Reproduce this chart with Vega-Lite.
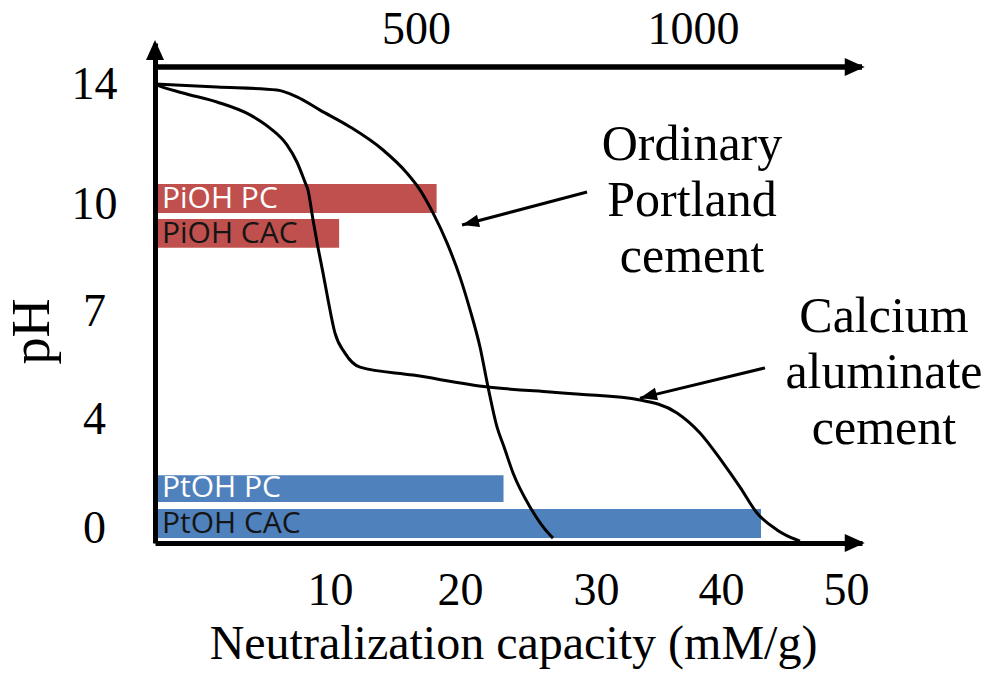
{
  "$schema": "https://vega.github.io/schema/vega-lite/v6.json",
  "width": 707,
  "height": 500,
  "autosize": {"type": "none"},
  "padding": {"left": 155, "top": 43, "right": 130, "bottom": 130},
  "background": "white",
  "config": {"view": {"stroke": null}, "axis": {"grid": false}},
  "datasets": {
    "bars": [
      {"label": "PiOH PC", "ion": "PiOH", "cement": "PC", "start": 0.17, "end": 18.2, "low": 9.75, "high": 10.67, "mid": 10.18},
      {"label": "PiOH CAC", "ion": "PiOH", "cement": "CAC", "start": 0.17, "end": 10.7, "low": 8.77, "high": 9.58, "mid": 9.17},
      {"label": "PtOH PC", "ion": "PtOH", "cement": "PC", "start": 0.17, "end": 23.2, "low": 0.95, "high": 1.94, "mid": 1.45},
      {"label": "PtOH CAC", "ion": "PtOH", "cement": "CAC", "start": 0.17, "end": 43.2, "low": -0.37, "high": 0.7, "mid": 0.165}
    ],
    "curves": [
      {"cement": "Ordinary Portland cement", "nc": 0, "ph": 14},
      {"cement": "Ordinary Portland cement", "nc": 3.54, "ph": 13.9},
      {"cement": "Ordinary Portland cement", "nc": 6.97, "ph": 13.8},
      {"cement": "Ordinary Portland cement", "nc": 8.11, "ph": 13.57},
      {"cement": "Ordinary Portland cement", "nc": 9.43, "ph": 13.13},
      {"cement": "Ordinary Portland cement", "nc": 11.54, "ph": 12.57},
      {"cement": "Ordinary Portland cement", "nc": 14.08, "ph": 11.8},
      {"cement": "Ordinary Portland cement", "nc": 15.92, "ph": 11.03},
      {"cement": "Ordinary Portland cement", "nc": 16.92, "ph": 10.47},
      {"cement": "Ordinary Portland cement", "nc": 17.92, "ph": 9.75},
      {"cement": "Ordinary Portland cement", "nc": 19.0, "ph": 8.91},
      {"cement": "Ordinary Portland cement", "nc": 20.0, "ph": 7.95},
      {"cement": "Ordinary Portland cement", "nc": 20.74, "ph": 7.03},
      {"cement": "Ordinary Portland cement", "nc": 21.47, "ph": 6.0},
      {"cement": "Ordinary Portland cement", "nc": 22.06, "ph": 4.89},
      {"cement": "Ordinary Portland cement", "nc": 22.72, "ph": 3.71},
      {"cement": "Ordinary Portland cement", "nc": 23.24, "ph": 2.97},
      {"cement": "Ordinary Portland cement", "nc": 23.9, "ph": 2.02},
      {"cement": "Ordinary Portland cement", "nc": 25.15, "ph": 0.77},
      {"cement": "Ordinary Portland cement", "nc": 26.62, "ph": -0.26},
      {"cement": "Ordinary Portland cement", "nc": 26.84, "ph": -0.37},
      {"cement": "Calcium aluminate cement", "nc": 0, "ph": 14},
      {"cement": "Calcium aluminate cement", "nc": 0.11, "ph": 13.97},
      {"cement": "Calcium aluminate cement", "nc": 1.6, "ph": 13.7},
      {"cement": "Calcium aluminate cement", "nc": 3.54, "ph": 13.4},
      {"cement": "Calcium aluminate cement", "nc": 5.43, "ph": 12.97},
      {"cement": "Calcium aluminate cement", "nc": 6.57, "ph": 12.53},
      {"cement": "Calcium aluminate cement", "nc": 7.54, "ph": 11.97},
      {"cement": "Calcium aluminate cement", "nc": 8.11, "ph": 11.4},
      {"cement": "Calcium aluminate cement", "nc": 8.57, "ph": 10.73},
      {"cement": "Calcium aluminate cement", "nc": 8.74, "ph": 10.47},
      {"cement": "Calcium aluminate cement", "nc": 9.03, "ph": 9.55},
      {"cement": "Calcium aluminate cement", "nc": 9.31, "ph": 8.79},
      {"cement": "Calcium aluminate cement", "nc": 9.6, "ph": 8.07},
      {"cement": "Calcium aluminate cement", "nc": 9.89, "ph": 7.31},
      {"cement": "Calcium aluminate cement", "nc": 10.38, "ph": 6.39},
      {"cement": "Calcium aluminate cement", "nc": 11.15, "ph": 5.83},
      {"cement": "Calcium aluminate cement", "nc": 12.31, "ph": 5.44},
      {"cement": "Calcium aluminate cement", "nc": 16.38, "ph": 5.22},
      {"cement": "Calcium aluminate cement", "nc": 22.06, "ph": 4.89},
      {"cement": "Calcium aluminate cement", "nc": 26.62, "ph": 4.75},
      {"cement": "Calcium aluminate cement", "nc": 28.82, "ph": 4.69},
      {"cement": "Calcium aluminate cement", "nc": 33.52, "ph": 4.53},
      {"cement": "Calcium aluminate cement", "nc": 36.48, "ph": 4.17},
      {"cement": "Calcium aluminate cement", "nc": 38.32, "ph": 3.49},
      {"cement": "Calcium aluminate cement", "nc": 40.16, "ph": 2.39},
      {"cement": "Calcium aluminate cement", "nc": 41.52, "ph": 1.5},
      {"cement": "Calcium aluminate cement", "nc": 42.88, "ph": 0.55},
      {"cement": "Calcium aluminate cement", "nc": 44.48, "ph": -0.07},
      {"cement": "Calcium aluminate cement", "nc": 46.08, "ph": -0.44},
      {"cement": "Calcium aluminate cement", "nc": 46.32, "ph": -0.48}
    ],
    "frame": [{"from": 0, "to": 51.28, "level": 14.57}],
    "heads": [
      {"part": "y axis", "nc": 0, "ph": 15.47, "dir": "up"},
      {"part": "x axis", "nc": 51.5, "ph": -0.55, "dir": "right"},
      {"part": "top axis", "nc": 51.5, "ph": 14.57, "dir": "right"}
    ],
    "pointers": [
      {"target": "Ordinary Portland cement", "from_nc": 29.34, "from_ph": 10.4, "to_nc": 20.15, "to_ph": 9.41},
      {"target": "Calcium aluminate cement", "from_nc": 43.52, "from_ph": 5.42, "to_nc": 33.52, "to_ph": 4.58}
    ],
    "notes": [
      {"note": "Ordinary\nPortland\ncement", "nc": 37.68, "ph": 11.47},
      {"note": "Calcium\naluminate\ncement", "nc": 53.04, "ph": 6.42}
    ],
    "topticks": [{"mmol": 500}, {"mmol": 1000}]
  },
  "layer": [
    {
      "resolve": {"scale": {"color": "independent"}},
      "layer": [
        {
          "data": {"name": "bars"},
          "mark": {"type": "rect"},
          "encoding": {
            "x": {
              "field": "start", "type": "quantitative",
              "scale": {"domain": [0, 10, 20, 30, 40, 50, 51.28], "range": [0, 175, 305, 441, 566, 691, 707], "nice": false, "zero": false},
              "axis": {
                "values": [10, 20, 30, 40, 50], "ticks": false, "tickSize": 0, "grid": false,
                "domain": true, "domainColor": "black", "domainWidth": 5,
                "labelFont": "Liberation Serif", "labelFontSize": 46, "labelColor": "black",
                "labelPadding": 25, "labelBaseline": "top", "labelFlush": false, "labelOverlap": false,
                "title": "Neutralization capacity (mM/g)", "titleFont": "Liberation Serif", "titleFontSize": 48,
                "titleFontWeight": "normal", "titleColor": "black", "titleX": 358, "titleY": 115,
                "titleBaseline": "alphabetic", "titleAlign": "center"
              }
            },
            "x2": {"field": "end"},
            "y": {
              "field": "low", "type": "quantitative",
              "scale": {"domain": [-0.55, 0, 4, 7, 10, 14, 15.37], "range": [500, 485, 376, 268, 161, 41, 0], "nice": false, "zero": false},
              "axis": {
                "values": [0, 4, 7, 10, 14], "ticks": false, "tickSize": 0, "grid": false,
                "domain": true, "domainColor": "black", "domainWidth": 5,
                "labelFont": "Liberation Serif", "labelFontSize": 46, "labelColor": "black",
                "labelAlign": "center", "labelBaseline": "middle", "labelPadding": 61,
                "labelFlush": false, "labelOverlap": false,
                "title": "pH", "titleFont": "Liberation Serif", "titleFontSize": 54, "titleFontWeight": "normal",
                "titleColor": "black", "titleAngle": -90, "titleX": -107, "titleY": 288,
                "titleAlign": "center", "titleBaseline": "alphabetic"
              }
            },
            "y2": {"field": "high"},
            "color": {"field": "ion", "type": "nominal", "scale": {"domain": ["PiOH", "PtOH"], "range": ["#c0504d", "#4f81bd"]}, "legend": null}
          }
        },
        {
          "data": {"name": "bars"},
          "mark": {"type": "text", "align": "left", "baseline": "middle", "font": "Open Sans", "fontSize": 30, "dx": 4},
          "encoding": {
            "x": {"field": "start", "type": "quantitative"},
            "y": {"field": "mid", "type": "quantitative"},
            "text": {"field": "label"},
            "color": {"field": "cement", "type": "nominal", "scale": {"domain": ["PC", "CAC"], "range": ["#ffffff", "#151515"]}, "legend": null}
          }
        },
        {
          "data": {"name": "curves"},
          "mark": {"type": "line", "color": "black", "strokeWidth": 3, "interpolate": "monotone"},
          "encoding": {
            "x": {"field": "nc", "type": "quantitative"},
            "y": {"field": "ph", "type": "quantitative"},
            "detail": {"field": "cement"}
          }
        },
        {
          "data": {"name": "frame"},
          "mark": {"type": "rule", "color": "black", "strokeWidth": 5.5},
          "encoding": {
            "x": {"field": "from", "type": "quantitative"},
            "x2": {"field": "to"},
            "y": {"field": "level", "type": "quantitative"}
          }
        },
        {
          "data": {"name": "heads"},
          "mark": {"type": "point", "filled": true, "color": "black", "opacity": 1, "size": 400, "strokeWidth": 0},
          "encoding": {
            "x": {"field": "nc", "type": "quantitative"},
            "y": {"field": "ph", "type": "quantitative"},
            "shape": {"field": "dir", "type": "nominal", "scale": {"domain": ["up", "right"], "range": ["M-0.9,2L0,0L0.9,2Z", "M-2,-0.9L0,0L-2,0.9Z"]}, "legend": null}
          }
        },
        {
          "data": {"name": "pointers"},
          "mark": {"type": "rule", "color": "black", "strokeWidth": 3},
          "encoding": {
            "x": {"field": "from_nc", "type": "quantitative"},
            "y": {"field": "from_ph", "type": "quantitative"},
            "x2": {"field": "to_nc"},
            "y2": {"field": "to_ph"}
          }
        },
        {
          "data": {"name": "pointers"},
          "mark": {"type": "point", "filled": true, "color": "black", "opacity": 1, "size": 289, "strokeWidth": 0, "angle": 166, "shape": "M-2,-0.75L0,0L-2,0.75Z"},
          "encoding": {
            "x": {"field": "to_nc", "type": "quantitative"},
            "y": {"field": "to_ph", "type": "quantitative"}
          }
        },
        {
          "data": {"name": "notes"},
          "mark": {"type": "text", "align": "center", "baseline": "alphabetic", "font": "Liberation Serif", "fontSize": 50, "lineBreak": "\n", "lineHeight": 56, "color": "black"},
          "encoding": {
            "x": {"field": "nc", "type": "quantitative"},
            "y": {"field": "ph", "type": "quantitative"},
            "text": {"field": "note"}
          }
        }
      ]
    },
    {
      "data": {"name": "topticks"},
      "mark": {"type": "point", "opacity": 0},
      "encoding": {
        "x": {
          "field": "mmol", "type": "quantitative",
          "scale": {"domain": [28.9, 1305.1], "nice": false, "zero": false},
          "axis": {
            "orient": "top", "values": [500, 1000], "format": "d", "ticks": false, "tickSize": 0, "domain": false, "grid": false,
            "labelFont": "Liberation Serif", "labelFontSize": 46, "labelColor": "black",
            "labelPadding": 0, "labelBaseline": "alphabetic", "labelFlush": false, "title": null
          }
        }
      }
    }
  ],
  "resolve": {"scale": {"x": "independent"}}
}
